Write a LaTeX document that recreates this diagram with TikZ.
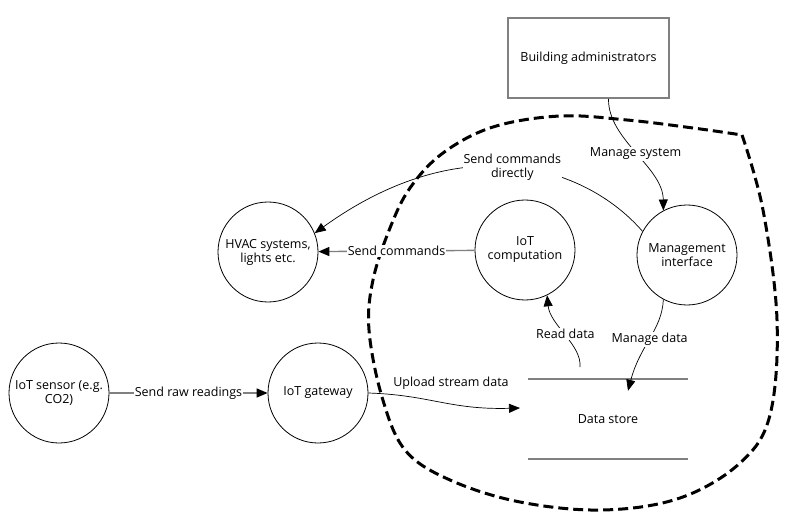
\documentclass[tikz,border=0pt]{standalone}
\usepackage{fontspec}
\setmainfont{Open Sans}
\usetikzlibrary{arrows.meta,positioning}
\definecolor{dfdGray}{HTML}{808080}
\tikzset{
  proc/.style={circle,draw,line width=0.8pt,minimum size=100pt,inner sep=0pt,align=center},
  extent/.style={draw=dfdGray,line width=1.8pt,minimum width=161pt,minimum height=80pt},
  store/.style={minimum width=160pt,minimum height=80pt},
  storeline/.style={draw=dfdGray,line width=1.8pt},
  flow/.style={-{Triangle[length=11pt,width=9pt,color=black]},line width=0.7pt},
  grayflow/.style={flow,draw=dfdGray,line width=1.4pt},
  lbl/.style={fill=white,inner sep=1pt,align=center},
  boundary/.style={line width=3pt,dash pattern=on 10pt off 5pt}
}
\begin{document}
\begin{tikzpicture}[x=1pt,y=-1pt,font=\fontsize{12.5}{14}\selectfont]
\useasboundingbox (0,0) rectangle (805,521);
% trust boundary
\draw[boundary] plot[smooth,tension=0.6] coordinates {(742,135) (763,210) (777,320) (770,415)
  (740,463) (680,498) (603,510) (520,502) (450,480) (405,450) (382,397) (369,330) (373,280)
  (390,228) (410,188) (443,153) (493,127) (560,116) (627,120) (693,128) (742,135)};
% external entities, processes, store
\node[extent] (admin) at (588.5,58) {Building administrators};
\node[proc] (sensor) at (59,393) {IoT sensor (e.g.\\CO2)};
\node[proc] (gateway) at (318,393) {IoT gateway};
\node[proc] (hvac) at (268,252) {HVAC systems,\\lights etc.};
\node[proc] (comp) at (525,250) {IoT\\computation};
\node[proc] (mgmt) at (687,255) {Management\\interface};
\node[store] (store) at (608,419) {Data store};
\draw[storeline] (store.north west) -- (store.north east);
\draw[storeline] (store.south west) -- (store.south east);
\coordinate (upin) at (520,408);
\coordinate (readout) at (580,367);
% flows
\draw[grayflow] (sensor) -- node[lbl] {Send raw readings} (gateway);
\draw[flow] (gateway.east) .. controls (430,395) and (450,410) .. (upin);
\node (uplbl) at (451,383) {Upload stream data};
\draw[grayflow] (comp) -- node[lbl] {Send commands} (hvac);
\draw[flow] (mgmt.152) .. controls (585,165) and (462,127) .. node[lbl] {Send commands\\directly} (hvac.22);
\draw[flow] ([xshift=20pt]admin.south) .. controls (608,140) and (663,167) .. node[lbl] {Manage system} (mgmt.118);
\draw[flow] (readout) .. controls (582,345) and (550,325) .. node[lbl] {Read data} (comp.-64);
\draw[flow] (mgmt.-118) .. controls (662,330) and (640,345) .. node[lbl] {Manage data} ([xshift=20pt,yshift=-12pt]store.north);
\end{tikzpicture}
\end{document}
